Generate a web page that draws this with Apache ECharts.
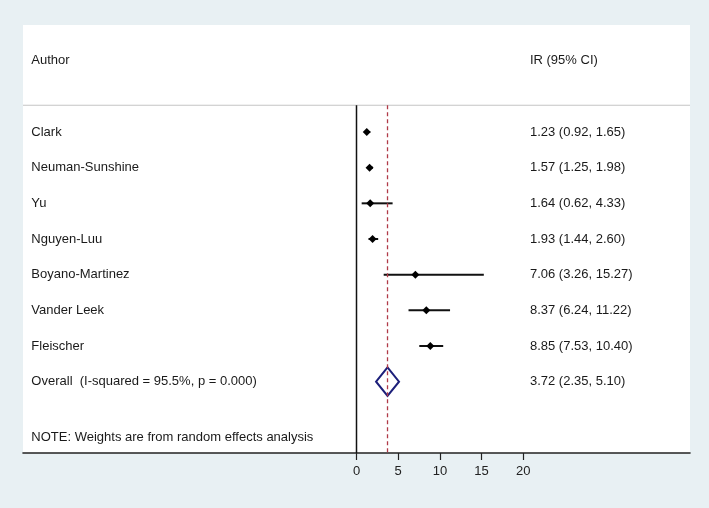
<!DOCTYPE html>
<html>
<head>
<meta charset="utf-8">
<script src="https://cdn.jsdelivr.net/npm/echarts@6/dist/echarts.min.js"></script>
<style>
html,body{margin:0;padding:0;background:#e8f0f3;}
#chart{width:709px;height:508px;}
</style>
</head>
<body>
<div id="chart"></div>
<script>
// ---- data ----
const authors = ['Clark','Neuman-Sunshine','Yu','Nguyen-Luu','Boyano-Martinez','Vander Leek','Fleischer'];
const ir = [1.23, 1.57, 1.64, 1.93, 7.06, 8.37, 8.85];
const lo = [0.92, 1.25, 0.62, 1.44, 3.26, 6.24, 7.53];
const hi = [1.65, 1.98, 4.33, 2.60, 15.27, 11.22, 10.40];
const overallLabel = 'Overall  (I-squared = 95.5%, p = 0.000)';
const overallEst = 3.72;
const overallLo = 2.35;
const overallHi = 5.10;
const tickValues = [0, 5, 10, 15, 20];
const headerLeft = 'Author';
const headerRight = 'IR (95% CI)';
const noteText = 'NOTE: Weights are from random effects analysis';

// ---- layout helpers ----
const LABEL_X = -39;
const IR_X = 20.8;
const HEADER_ROW = -1;
const SEP_ROW = 0.25;
const OVERALL_ROW = authors.length + 1;
const NOTE_ROW = 9.55;
const BOTTOM_ROW = 10;
const fmt = (e, l, h) => e.toFixed(2) + ' (' + l.toFixed(2) + ', ' + h.toFixed(2) + ')';

const studyData = authors.map((a, i) => [lo[i], hi[i], ir[i], i + 1]);

const texts = [];
texts.push([LABEL_X, HEADER_ROW, headerLeft]);
texts.push([IR_X, HEADER_ROW, headerRight]);
authors.forEach((a, i) => {
  texts.push([LABEL_X, i + 1, a]);
  texts.push([IR_X, i + 1, fmt(ir[i], lo[i], hi[i])]);
});
texts.push([LABEL_X, OVERALL_ROW, overallLabel]);
texts.push([IR_X, OVERALL_ROW, fmt(overallEst, overallLo, overallHi)]);
texts.push([LABEL_X, NOTE_ROW, noteText]);

const FONT = '13px "Liberation Sans", Arial, sans-serif';

const chart = echarts.init(document.getElementById('chart'));
chart.setOption({
  backgroundColor: '#e8f0f3',
  animation: false,
  grid: {
    left: 23, right: 19, top: 25, bottom: 55,
    show: true, backgroundColor: '#ffffff', borderWidth: 0
  },
  xAxis: {
    type: 'value', min: -40, max: 40, interval: 5,
    splitLine: { show: false },
    axisLine: { show: true, onZero: false, lineStyle: { color: '#222', width: 1.6 } },
    axisTick: { show: true, length: 7, customValues: tickValues, lineStyle: { color: '#222', width: 1.2 } },
    axisLabel: { customValues: tickValues, color: '#222', fontSize: 13, margin: 12,
      fontFamily: '"Liberation Sans", Arial, sans-serif' }
  },
  yAxis: {
    type: 'value', min: -2, max: BOTTOM_ROW, inverse: true, show: false
  },
  series: [
    {
      type: 'line', data: [[-40, SEP_ROW], [40, SEP_ROW]], symbol: 'none',
      lineStyle: { color: '#c4c4c4', width: 1.2 }, silent: true
    },
    {
      type: 'line', data: [[0, SEP_ROW], [0, BOTTOM_ROW]], symbol: 'none',
      lineStyle: { color: '#111', width: 1.5 }, silent: true
    },
    {
      type: 'line', data: [[overallEst, SEP_ROW], [overallEst, BOTTOM_ROW]], symbol: 'none',
      lineStyle: { color: '#b03a48', width: 1.3, type: [4, 3] }, silent: true
    },
    {
      type: 'custom',
      data: studyData,
      encode: { x: [0, 1, 2], y: 3 },
      renderItem: function (params, api) {
        const y = api.value(3);
        const p1 = api.coord([api.value(0), y]);
        const p2 = api.coord([api.value(1), y]);
        const pc = api.coord([api.value(2), y]);
        const s = 4;
        return {
          type: 'group',
          children: [
            { type: 'line', shape: { x1: p1[0], y1: p1[1], x2: p2[0], y2: p2[1] },
              style: { stroke: '#111', lineWidth: 2 } },
            { type: 'polygon', shape: { points: [[pc[0] - s, pc[1]], [pc[0], pc[1] - s], [pc[0] + s, pc[1]], [pc[0], pc[1] + s]] },
              style: { fill: '#000' } }
          ]
        };
      }
    },
    {
      type: 'custom',
      data: [[overallLo, overallHi, overallEst, OVERALL_ROW]],
      encode: { x: [0, 1, 2], y: 3 },
      renderItem: function (params, api) {
        const y = api.value(3);
        const pl = api.coord([api.value(0), y]);
        const ph = api.coord([api.value(1), y]);
        const pt = api.coord([api.value(2), y - 0.4]);
        const pb = api.coord([api.value(2), y + 0.4]);
        return {
          type: 'polygon',
          shape: { points: [pl, pt, ph, pb] },
          style: { fill: 'none', stroke: '#1c1f7a', lineWidth: 2 }
        };
      }
    },
    {
      type: 'custom',
      data: texts.map(t => [t[0], t[1]]),
      encode: { x: 0, y: 1 },
      renderItem: function (params, api) {
        const p = api.coord([api.value(0), api.value(1)]);
        return {
          type: 'text', x: p[0], y: p[1],
          style: { text: texts[params.dataIndex][2], fill: '#1a1a1a', font: FONT,
            align: 'left', verticalAlign: 'middle' }
        };
      }
    }
  ]
});
</script>
</body>
</html>
